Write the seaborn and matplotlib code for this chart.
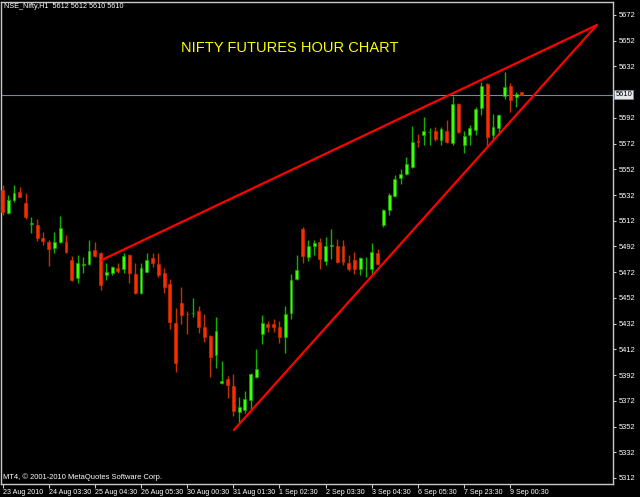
import numpy as np
import pandas as pd
import matplotlib
matplotlib.use("Agg")
import matplotlib.pyplot as plt
import seaborn as sns

# =========================
# data (NSE Nifty futures, H1 bars)
# =========================
opens = [5535.9, 5518.0, 5528.1, 5534.4, 5525.8, 5509.5, 5508.7, 5498.6, 5495.5, 5490.8,
         5495.5, 5495.5, 5481.5, 5467.5, 5477.8, 5478.4, 5489.3, 5486.9, 5469.8, 5471.4,
         5475.3, 5474.5, 5485.4, 5470.6, 5455.8, 5472.2, 5483.0, 5478.4, 5471.4, 5462.8,
         5432.5, 5448.0, 5439.8, 5440.0, 5441.8, 5429.4, 5422.4, 5407.6, 5385.8, 5388.9,
         5383.5, 5363.3, 5364.8, 5372.6, 5390.5, 5424.0, 5431.7, 5431.7, 5429.4, 5421.6,
         5440.3, 5466.7, 5505.6, 5483.8, 5492.4, 5495.5, 5480.7, 5492.6, 5492.4, 5492.4,
         5479.1, 5481.5, 5474.5, 5475.0, 5474.5, 5486.9, 5508.7, 5520.4, 5531.3, 5545.3,
         5548.4, 5553.8, 5574.0, 5578.7, 5580.8, 5581.8, 5574.8, 5581.8, 5572.5, 5602.8,
         5570.9, 5578.7, 5582.6, 5599.7, 5618.3, 5578.7, 5584.1, 5609.0, 5616.8, 5608.2,
         5612.0]
highs = [5539.8, 5532.0, 5539.8, 5538.3, 5533.6, 5514.9, 5513.4, 5503.3, 5497.0, 5503.3,
         5515.7, 5500.9, 5484.6, 5485.4, 5483.8, 5497.0, 5495.5, 5487.5, 5479.1, 5476.8,
         5479.1, 5486.9, 5485.9, 5479.1, 5479.1, 5486.9, 5486.9, 5486.9, 5475.3, 5466.7,
         5444.2, 5460.5, 5441.8, 5451.9, 5445.7, 5439.5, 5423.0, 5437.2, 5403.0, 5391.3,
         5392.8, 5374.9, 5379.6, 5393.6, 5412.3, 5438.7, 5434.1, 5435.6, 5434.1, 5445.7,
         5470.6, 5485.4, 5507.1, 5497.0, 5497.0, 5498.6, 5499.4, 5505.6, 5497.8, 5497.0,
         5485.4, 5487.7, 5483.8, 5483.8, 5494.7, 5490.0, 5520.8, 5533.6, 5547.6, 5552.3,
         5561.6, 5585.7, 5579.5, 5592.7, 5584.1, 5584.9, 5584.9, 5590.4, 5609.0, 5603.2,
         5581.8, 5586.5, 5600.5, 5619.9, 5619.1, 5595.0, 5595.0, 5627.7, 5619.1, 5612.1,
         5612.0]
lows = [5516.5, 5517.3, 5526.6, 5530.5, 5513.4, 5502.5, 5496.3, 5493.2, 5476.8, 5486.9,
        5494.7, 5486.9, 5465.2, 5463.6, 5471.4, 5477.6, 5483.8, 5458.2, 5465.9, 5469.8,
        5471.4, 5471.4, 5463.6, 5455.0, 5455.0, 5471.8, 5476.0, 5468.3, 5455.8, 5427.8,
        5394.4, 5431.7, 5424.0, 5437.2, 5424.7, 5417.7, 5390.5, 5397.5, 5385.1, 5374.2,
        5360.2, 5354.7, 5362.5, 5364.8, 5390.0, 5416.2, 5425.5, 5425.5, 5416.9, 5409.2,
        5435.6, 5465.9, 5479.1, 5480.7, 5485.4, 5474.5, 5477.6, 5482.3, 5479.1, 5477.6,
        5472.9, 5470.6, 5469.8, 5468.3, 5470.6, 5477.6, 5507.1, 5516.5, 5530.5, 5540.6,
        5547.6, 5553.0, 5569.4, 5570.9, 5570.9, 5574.0, 5570.9, 5572.5, 5570.9, 5580.2,
        5564.7, 5570.9, 5578.7, 5594.2, 5569.4, 5574.8, 5578.7, 5606.7, 5596.6, 5600.5,
        5610.0]
closes = [5518.8, 5528.1, 5533.6, 5530.5, 5514.9, 5510.0, 5498.6, 5496.3, 5490.0, 5495.5,
          5506.4, 5487.7, 5465.9, 5479.1, 5478.4, 5488.5, 5484.6, 5462.0, 5472.2, 5476.0,
          5472.9, 5484.6, 5471.4, 5455.8, 5475.3, 5481.5, 5479.1, 5469.8, 5460.5, 5433.3,
          5401.4, 5438.7, 5439.3, 5440.5, 5429.4, 5421.6, 5406.1, 5426.3, 5387.4, 5384.3,
          5364.1, 5367.2, 5373.4, 5392.8, 5396.7, 5432.5, 5429.4, 5429.6, 5421.6, 5439.5,
          5465.9, 5473.7, 5484.6, 5492.4, 5494.7, 5482.3, 5492.4, 5493.2, 5479.9, 5479.9,
          5474.5, 5474.5, 5483.0, 5475.5, 5487.7, 5478.4, 5520.4, 5532.0, 5544.5, 5548.4,
          5556.1, 5573.2, 5573.2, 5581.8, 5581.2, 5575.6, 5583.4, 5573.2, 5602.8, 5581.0,
          5577.9, 5584.1, 5598.9, 5616.8, 5577.1, 5584.9, 5594.2, 5616.0, 5605.9, 5610.6,
          5610.0]

time_tick_bars = [0, 8, 16, 24, 32, 40, 48, 56, 64, 72, 80, 88]
time_tick_labels = ["23 Aug 2010", "24 Aug 03:30", "25 Aug 04:30", "26 Aug 05:30",
                    "30 Aug 00:30", "31 Aug 01:30", "1 Sep 02:30", "2 Sep 03:30",
                    "3 Sep 04:30", "6 Sep 05:30", "7 Sep 23:30", "9 Sep 00:30"]
price_ticks = list(range(5312, 5673, 20))
bid_price = 5610

# trend lines (bar index, price)
upper_line_bars = [17.2, 103.0]
upper_line_prices = [5481.5, 5664.2]
lower_line_bars = [40.1, 103.0]
lower_line_prices = [5349.3, 5664.2]

df = pd.DataFrame({"open": opens, "high": highs, "low": lows, "close": closes})
df["bar"] = np.arange(len(df))
df["bull"] = df["close"] >= df["open"]

# =========================
# style
# =========================
sns.set_theme(style="dark", rc={"axes.facecolor": "black", "figure.facecolor": "black",
                                "axes.edgecolor": "#c8c8c8", "text.color": "white",
                                "xtick.color": "#c8c8c8", "ytick.color": "#c8c8c8"})
plt.rcParams["font.family"] = ["Liberation Sans", "DejaVu Sans"]

fig = plt.figure(figsize=(6.4, 4.97), dpi=100)
ax = fig.add_axes([1 / 640, 13 / 497, 612 / 640, 482 / 497])

# candles
for _, r in df.iterrows():
    if r["bull"]:
        wick_c, body_c, edge_c = "#12b000", "#3cff00", "#20a000"
    else:
        wick_c, body_c, edge_c = "#c83000", "#ff2a00", "#c03000"
    ax.vlines(r["bar"], r["low"], r["high"], color=wick_c, lw=1.0, zorder=2)
    h = r["close"] - r["open"]
    if abs(h) < 0.6:
        h = 0.6 if h >= 0 else -0.6
    ax.bar(r["bar"], h, bottom=r["open"], width=0.5, color=body_c,
           edgecolor=edge_c, linewidth=0.5, zorder=3)

# trend lines
sns.lineplot(x=upper_line_bars, y=upper_line_prices, ax=ax, color="#ff0000", lw=1.6, zorder=4)
sns.lineplot(x=lower_line_bars, y=lower_line_prices, ax=ax, color="#ff0000", lw=1.6, zorder=4)

# bid line
ax.axhline(bid_price, color="#778899", lw=0.8, zorder=1)

ax.set_xlim(-0.26, 105.8)
ax.set_ylim(5307.3, 5682.1)

ax.yaxis.tick_right()
ax.set_yticks(price_ticks)
# the 5612 label sits under the bid price box, as on the terminal
ax.set_yticklabels(["" if p == 5612 else str(p) for p in price_ticks], fontsize=5.4, color="white")
ax.set_xticks(time_tick_bars)
ax.set_xticklabels(time_tick_labels, fontsize=5.1, color="white", ha="left")
ax.tick_params(axis="y", direction="out", length=2.5, width=0.8, pad=1.5, right=True)
ax.tick_params(axis="x", direction="out", length=3, width=0.8, pad=0.5, bottom=True)
ax.set_xlabel("")
ax.set_ylabel("")
ax.grid(False)
for s in ax.spines.values():
    s.set_color("#c8c8c8")
    s.set_linewidth(1.0)

ax.text(1.004, bid_price, str(bid_price), transform=ax.get_yaxis_transform(),
        fontsize=5.4, color="black", va="center", ha="left", zorder=10, clip_on=False,
        bbox=dict(boxstyle="square,pad=0.15", facecolor="#e8e8e8", edgecolor="#778899", lw=0.6))

# texts
fig.text(4 / 640, 1 - 7 / 497, "NSE_Nifty,H1  5612 5612 5610 5610", fontsize=5.2,
         color="white", va="center", ha="left")
fig.text(290 / 640, 1 - 48 / 497, "NIFTY FUTURES HOUR CHART", fontsize=10.5,
         color="#ffff00", va="center", ha="center")
fig.text(3 / 640, 1 - 477 / 497, "MT4, \u00a9 2001-2010 MetaQuotes Software Corp.",
         fontsize=5.4, color="white", va="center", ha="left")

fig.savefig("out.png", dpi=100, facecolor="black")
